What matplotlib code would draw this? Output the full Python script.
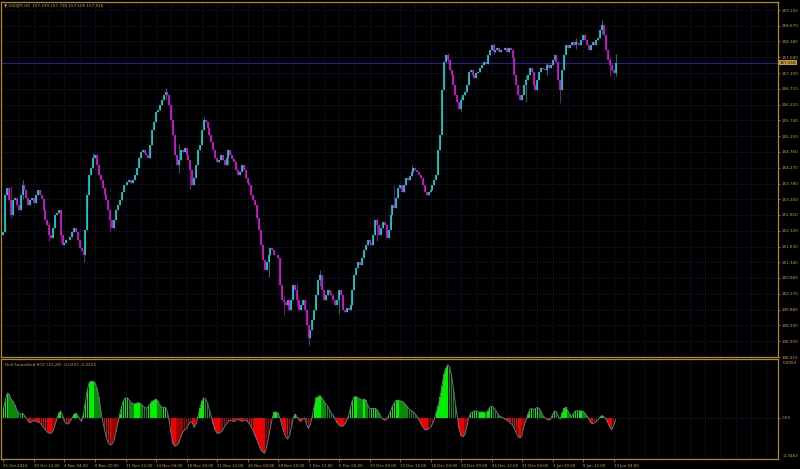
import numpy as np
import matplotlib.pyplot as plt
import matplotlib.transforms as mtrans

# ---- price data (USDJPY H4 closes) ----
first_open = 152.20
closes_a = [152.28, 153.42, 153.64, 153.27, 152.81, 153.27, 153.33, 153.12, 152.96, 153.42,
            153.73, 153.58, 153.33, 153.12, 153.27, 153.33, 153.18, 153.42, 153.58, 153.42,
            153.30, 152.96, 152.65, 152.50, 152.19, 152.10, 152.40, 152.81, 152.87, 152.96,
            152.19, 151.88, 151.94, 152.03, 152.03, 152.13, 152.28, 152.40, 152.28, 152.03,
            151.78, 151.70, 151.57]
closes_b = [152.34, 153.42, 154.04, 154.26, 154.57, 154.66, 154.35, 154.04, 153.89, 153.65,
            153.42, 153.27, 152.96, 152.65, 152.40, 152.65, 152.96, 153.12, 153.27, 153.52,
            153.73, 153.73, 153.83, 153.89, 153.80, 153.89, 154.04, 154.26, 154.57, 154.76,
            154.82, 154.72, 154.66, 154.57, 154.97, 155.44, 155.68, 155.99, 156.06, 156.21,
            156.37, 156.52, 156.61, 156.52, 156.21, 155.75]
closes_c = [155.28, 154.66, 154.35, 154.51, 154.82, 154.75, 154.88, 154.66, 154.51, 154.20,
            153.73, 153.95, 154.35, 154.82, 154.97, 155.44, 155.75, 155.68, 155.50, 155.28,
            155.07, 154.82, 154.57, 154.45, 154.51, 154.66, 154.51, 154.35, 154.57, 154.82,
            154.66, 154.55, 154.45, 154.20, 154.04, 154.14, 154.35, 154.20, 153.95, 153.80,
            153.73, 153.42, 153.27, 153.12, 152.71, 152.34, 151.88]
closes_d = [151.41, 151.10, 151.35, 151.57, 151.78, 151.72, 151.57, 151.57, 151.47, 150.64,
            150.17, 150.10, 150.02, 150.17, 149.87, 150.17, 150.64, 150.48, 150.17, 149.87,
            150.02, 150.17, 149.87, 149.40, 149.00, 149.25, 149.56, 149.87, 150.33, 150.79,
            150.95, 150.48, 150.17, 150.33, 150.48, 150.40, 150.33, 150.17, 150.02, 150.17,
            150.48, 150.33, 149.87, 149.80, 149.93]
closes_e = [149.87, 150.02, 150.48, 150.95, 151.17, 151.35, 151.26, 151.47, 151.72, 151.88,
            152.03, 151.95, 151.88, 152.19, 152.65, 152.50, 152.19, 152.40, 152.59, 152.50,
            152.10, 152.34, 152.81, 153.12, 153.02, 153.33, 153.64, 153.73, 153.52, 153.73,
            153.95, 153.89, 154.01, 154.14, 154.26, 154.20, 154.14, 154.04, 153.95, 153.73,
            153.52, 153.42, 153.52, 153.58, 153.73, 153.89, 154.04, 154.82, 155.28]
closes_f = [156.67, 157.54, 157.76, 157.60, 157.29, 157.14, 156.83, 156.52, 156.30, 156.10,
            156.37, 156.52, 156.61, 156.83, 157.23, 157.29, 157.14, 157.05, 157.20, 157.23,
            157.36, 157.45, 157.54, 157.48, 157.76, 157.91, 158.07, 157.85, 157.91, 157.97,
            157.85, 157.90, 157.91, 157.97, 157.85, 157.97, 157.91, 157.66, 157.14, 156.83,
            156.52, 156.37]
closes_g = [156.52, 156.83, 156.98, 157.14, 157.36, 157.23, 156.83, 156.67, 156.98, 157.23,
            157.36, 157.33, 157.29, 157.45, 157.36, 157.45, 157.60, 157.76, 157.54, 156.98,
            156.67, 157.29, 157.76, 158.07, 157.97, 158.07, 158.16, 158.07, 158.16, 158.12,
            158.07, 158.22, 158.38, 158.22, 158.07, 157.91, 158.07, 158.16, 158.07, 158.22,
            158.28, 158.53, 158.69, 158.38, 157.91, 157.60, 157.45, 157.29, 157.199, 157.518]

# notable wicks: bar index -> (high, low)
wicks = {4: (153.70, 152.70), 10: (153.90, 153.30), 24: (152.60, 152.00), 30: (152.96, 151.95),
         42: (151.60, 151.35), 47: (154.73, 154.30), 56: (152.90, 152.30), 85: (156.74, 156.40),
         92: (155.00, 154.10), 98: (154.00, 153.60), 105: (155.84, 155.60), 118: (154.75, 154.35),
         139: (151.45, 150.90), 147: (150.30, 149.70), 154: (150.70, 150.00), 160: (149.30, 148.78),
         166: (151.10, 150.60), 176: (150.40, 149.75), 196: (152.70, 152.00), 205: (153.75, 153.30),
         214: (154.35, 154.05), 233: (157.82, 157.50), 240: (156.45, 156.02), 257: (158.13, 157.80),
         274: (157.15, 156.30), 285: (157.50, 157.15), 292: (156.90, 156.27), 300: (158.30, 157.95),
         314: (158.84, 158.40), 318: (157.70, 157.10), 321: (157.790, 157.105)}

# ---- Hull Smoothed ROC values ----
roc_a = [0.08, 0.15, 0.21, 0.20, 0.16, 0.14, 0.11, 0.07, 0.04, 0.03,
         0.04, 0.02, 0.00, -0.03, -0.04, -0.03, -0.02, -0.03, -0.035, -0.04, -0.06,
         -0.08, -0.10, -0.12, -0.13, -0.13, -0.11, -0.06, -0.01, 0.04, 0.06,
         0.02, -0.03, -0.05, -0.05, -0.03, 0.00, 0.03, 0.04, 0.02, -0.01,
         -0.03, 0.04]
roc_b = [0.14, 0.24, 0.30, 0.31, 0.31, 0.30, 0.25, 0.18, 0.07, -0.02,
         -0.10, -0.17, -0.21, -0.23, -0.22, -0.19, -0.12, -0.04, 0.03, 0.10,
         0.15, 0.17, 0.17, 0.15, 0.13, 0.12, 0.12, 0.125, 0.13, 0.12,
         0.10, 0.09, 0.08, 0.10, 0.12, 0.14, 0.15, 0.16, 0.14, 0.11,
         0.09, 0.09, 0.09, 0.05, -0.03, -0.14]
roc_c = [-0.22, -0.24, -0.23, -0.21, -0.16, -0.12, -0.10, -0.09, -0.06, -0.03,
         -0.04, -0.08, -0.05, 0.01, 0.08, 0.14, 0.17, 0.16, 0.13, 0.07,
         0.01, -0.05, -0.10, -0.13, -0.13, -0.12, -0.10, -0.07, -0.05, -0.03,
         -0.02, -0.025, -0.03, -0.02, -0.01, -0.02, -0.03, -0.02, -0.02, -0.03,
         -0.05, -0.08, -0.11, -0.15, -0.19, -0.23, -0.27]
roc_d = [-0.29, -0.30, -0.25, -0.16, -0.08, 0.00, 0.05, 0.05, 0.04, 0.00,
         -0.06, -0.12, -0.16, -0.18, -0.15, -0.08, 0.00, 0.03, 0.01, -0.02,
         -0.03, -0.01, 0.00, -0.06, -0.09, -0.05, 0.02, 0.10, 0.17, 0.18,
         0.19, 0.17, 0.14, 0.12, 0.10, 0.07, 0.04, 0.02, -0.01, -0.04,
         -0.06, -0.07, -0.07, -0.05, -0.02]
roc_e = [0.02, 0.09, 0.15, 0.18, 0.18, 0.17, 0.16, 0.15, 0.16, 0.15,
         0.11, 0.08, 0.08, 0.08, 0.08, 0.07, 0.04, 0.01, -0.01, -0.02,
         -0.01, 0.02, 0.06, 0.10, 0.13, 0.15, 0.15, 0.145, 0.14, 0.13,
         0.11, 0.09, 0.07, 0.06, 0.05, 0.03, 0.01, -0.02, -0.05, -0.08,
         -0.10, -0.10, -0.09, -0.08, -0.05, -0.01, 0.05, 0.10, 0.18]
roc_f = [0.27, 0.37, 0.42, 0.45, 0.43, 0.36, 0.25, 0.12, 0.01, -0.09,
         -0.15, -0.16, -0.14, -0.07, 0.00, 0.04, 0.05, 0.06, 0.06, 0.05,
         0.05, 0.05, 0.05, 0.04, 0.06, 0.09, 0.10, 0.09, 0.07, 0.04,
         0.02, 0.01, 0.00, -0.01, -0.02, -0.03, -0.045, -0.06, -0.09, -0.13,
         -0.16, -0.17]
roc_g = [-0.14, -0.07, -0.02, 0.03, 0.07, 0.08, 0.07, 0.08, 0.09, 0.08,
         0.05, 0.02, 0.00, -0.01, -0.02, -0.01, 0.03, 0.06, 0.05, 0.01,
         -0.01, 0.04, 0.08, 0.09, 0.06, 0.03, 0.01, 0.04, 0.06, 0.06,
         0.06, 0.06, 0.055, 0.04, 0.02, -0.01, -0.04, -0.05, -0.04, -0.03,
         -0.01, 0.01, 0.02, 0.01, -0.01, -0.04, -0.08, -0.10, -0.06, -0.0203]

price_ticks = [159.150, 158.670, 158.180, 157.690, 157.200, 156.710, 156.220, 155.740,
               155.250, 154.760, 154.270, 153.780, 153.300, 152.810, 152.320, 151.830,
               151.340, 150.860, 150.370, 149.880, 149.390, 148.900, 148.410]
date_labels = ['25 Oct 2024', '30 Oct 12:00', '4 Nov 04:00', '6 Nov 20:00', '11 Nov 12:00',
               '14 Nov 04:00', '18 Nov 20:00', '21 Nov 12:00', '26 Nov 04:00', '28 Nov 20:00',
               '3 Dec 12:00', '6 Dec 04:00', '10 Dec 20:00', '13 Dec 12:00', '18 Dec 04:00',
               '20 Dec 20:00', '26 Dec 12:00', '31 Dec 04:00', '3 Jan 20:00', '8 Jan 12:00',
               '13 Jan 04:00']
last_price = 157.518
roc_top, roc_bottom = 0.4954, -0.3482

gold = '#B08A2A'
text_col = '#C8A040'
grid_col = '#1E1E5C'

closes = np.array(closes_a + closes_b + closes_c + closes_d + closes_e + closes_f + closes_g)
roc = np.array(roc_a + roc_b + roc_c + roc_d + roc_e + roc_f + roc_g)
n = len(closes)
x = np.arange(n)
opens = np.r_[first_open, closes[:-1]]
highs = np.maximum(opens, closes)
lows = np.minimum(opens, closes)
for i, (h, l) in wicks.items():
    highs[i] = max(highs[i], h)
    lows[i] = min(lows[i], l)

fig = plt.figure(figsize=(8, 4.69), dpi=100, facecolor='black')
ax = fig.add_axes([0.00125, 0.2388, 0.97125, 0.7569], facecolor='black')
ax2 = fig.add_axes([0.00125, 0.0213, 0.97125, 0.2122], facecolor='black')

xlim = (-1.3, 406.2)

# grid
for a in (ax, ax2):
    for gx in range(8, n + 80, 8):
        a.axvline(gx, color=grid_col, lw=0.6, ls=(0, (1.2, 2)), zorder=0)
    for s in a.spines.values():
        s.set_color(gold)
        s.set_linewidth(0.9)
for p in price_ticks:
    ax.axhline(p, color=grid_col, lw=0.6, ls=(0, (1.2, 2)), zorder=0)
ax2.axhline(0, color='#24246A', lw=0.6, ls=(0, (1.2, 2)), zorder=0)

# candles
up = closes >= opens
dn = ~up
ax.vlines(x[up], lows[up], highs[up], color='#0F9090', lw=0.55, zorder=2)
ax.vlines(x[dn], lows[dn], highs[dn], color='#A01CA0', lw=0.55, zorder=2)
ax.vlines(x[up], opens[up], closes[up], color='#14E6E6', lw=1.1, zorder=3)
ax.vlines(x[dn], opens[dn], closes[dn], color='#EE14EE', lw=1.1, zorder=3)

ax.axhline(last_price, color='#22229A', lw=0.8, zorder=1)

ax.set_xlim(*xlim)
ax.set_ylim(148.41, 159.40)
ax.yaxis.tick_right()
ax.set_yticks(price_ticks)
ax.set_yticklabels(['%.3f' % p for p in price_ticks])
ax.tick_params(axis='y', colors=gold, labelcolor=text_col, labelsize=3.0, length=1.5, width=0.5, pad=1)
ax.set_xticks([])
ax.text(1.002, last_price, '%.3f' % last_price,
        transform=mtrans.blended_transform_factory(ax.transAxes, ax.transData),
        fontsize=3.0, color='black', va='center', ha='left', zorder=5,
        bbox=dict(boxstyle='square,pad=0.15', fc='#C89B30', ec='none'), clip_on=False)
ax.text(0.004, 0.994, '\u25bc USDJPY,H4  157.199 157.790 157.105 157.518', transform=ax.transAxes,
        fontsize=3.0, color=text_col, va='top', ha='left')

# indicator histogram, coloured by sign and slope
d = np.diff(roc, prepend=roc[0])
bar_cols = np.where(roc >= 0,
                    np.where(d >= 0, '#00F000', '#0A8A0A'),
                    np.where(d <= 0, '#F00000', '#A00000'))
ax2.bar(x, roc, width=0.78, color=list(bar_cols), linewidth=0, zorder=2)
ax2.plot(x, roc, color='#5E7878', lw=0.7, zorder=3)
ax2.set_xlim(*xlim)
ax2.set_ylim(roc_bottom, roc_top)
ax2.yaxis.tick_right()
ax2.set_yticks([0])
ax2.set_yticklabels(['0.00'])
ax2.tick_params(axis='y', colors=gold, labelcolor=text_col, labelsize=3.0, length=1.5, width=0.5, pad=1)
ax2.text(1.006, 0.985, '%.4f' % roc_top, transform=ax2.transAxes, fontsize=3.0, color=text_col,
         va='top', ha='left', clip_on=False)
ax2.text(1.006, 0.01, '%.4f' % roc_bottom, transform=ax2.transAxes, fontsize=3.0, color=text_col,
         va='bottom', ha='left', clip_on=False)
ax2.text(0.005, 0.96, 'Hull Smoothed ROC (21,28) -0.0203 -0.0203', transform=ax2.transAxes,
         fontsize=3.0, color=text_col, va='top', ha='left')

ax2.set_xticks(list(range(0, 16 * len(date_labels), 16)))
ax2.set_xticklabels(date_labels)
ax2.tick_params(axis='x', colors=gold, labelcolor=text_col, labelsize=2.8, length=2.5, width=0.5, pad=1)
for lbl in ax2.get_xticklabels():
    lbl.set_horizontalalignment('left')

fig.savefig('out.png', dpi=100, facecolor='black')
